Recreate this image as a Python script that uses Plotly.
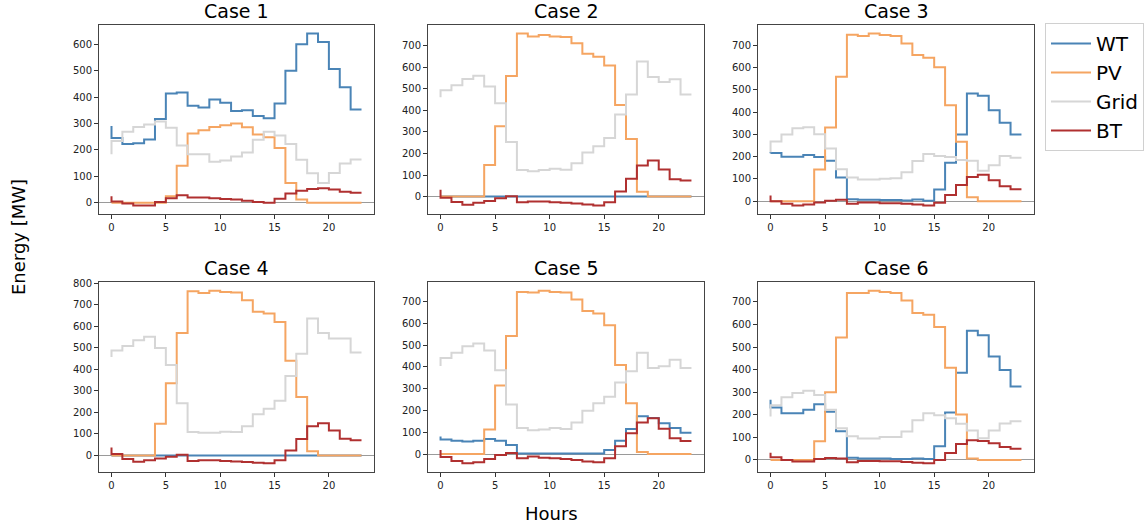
import plotly.graph_objects as go

hours = list(range(24))
cases = ["Case 1", "Case 2", "Case 3", "Case 4", "Case 5", "Case 6"]
series_names = ["WT", "PV", "Grid", "BT"]

# Case 1
wt1 = [290, 245, 222, 225, 239, 317, 413, 417, 367, 360, 391, 378, 347, 350, 328, 320, 376, 499, 600, 640, 608, 506, 437, 353]
pv1 = [0, 0, 0, 0, 0, 0, 25, 140, 262, 274, 287, 293, 300, 286, 258, 248, 207, 75, 12, 0, 0, 0, 0, 0]
grid1 = [184, 234, 269, 287, 296, 307, 284, 217, 184, 184, 155, 160, 175, 190, 238, 269, 254, 222, 163, 112, 75, 113, 149, 164]
bt1 = [25, 5, -3, -10, -10, 3, 17, 28, 20, 20, 17, 14, 12, 8, 3, 0, 15, 35, 45, 52, 55, 50, 42, 38]

# Case 2
wt2 = [0] * 24
pv2 = [0, 0, 0, 0, 0, 146, 326, 559, 756, 743, 750, 743, 740, 711, 662, 648, 608, 425, 267, 22, 0, 0, 0, 0]
grid2 = [461, 493, 516, 545, 561, 511, 433, 253, 123, 117, 123, 129, 124, 154, 204, 233, 272, 381, 473, 627, 555, 531, 544, 473]
bt2 = [32, -5, -25, -38, -29, -20, -8, 2, -26, -23, -23, -26, -29, -32, -37, -41, -26, 23, 83, 144, 167, 126, 80, 74]

# Case 3
wt3 = [215, 217, 200, 200, 207, 198, 182, 106, 9, 6, 6, 5, 5, 3, 8, 2, 53, 173, 300, 484, 474, 408, 352, 300]
pv3 = [0, 0, 0, 0, 0, 142, 331, 559, 748, 742, 753, 747, 742, 708, 657, 644, 602, 431, 267, 18, 0, 0, 0, 0]
grid3 = [220, 268, 300, 328, 332, 301, 237, 144, 106, 97, 97, 101, 103, 130, 180, 212, 203, 198, 185, 182, 137, 162, 203, 195]
bt3 = [25, 0, -12, -19, -15, -6, 2, 6, -12, -6, -6, -9, -9, -12, -15, -19, -7, 28, 73, 109, 119, 94, 67, 54]

# Case 4
wt4 = [0] * 24
pv4 = [0, 0, 0, 0, 0, 147, 336, 569, 763, 755, 766, 760, 757, 721, 668, 660, 620, 440, 271, 19, 0, 0, 0, 0]
grid4 = [457, 488, 509, 535, 552, 499, 420, 242, 109, 105, 105, 110, 109, 136, 191, 217, 254, 369, 473, 636, 569, 543, 544, 478]
bt4 = [37, 6, -17, -29, -23, -14, -6, 3, -26, -23, -22, -26, -28, -31, -34, -37, -22, 23, 76, 135, 150, 116, 78, 70]

# Case 5
wt5 = [80, 67, 61, 57, 61, 69, 61, 41, 2, 2, 2, 2, 2, 2, 2, 2, 18, 61, 115, 173, 165, 141, 119, 98]
pv5 = [0, 0, 0, 0, 0, 112, 314, 542, 744, 741, 750, 744, 741, 709, 657, 645, 591, 409, 233, 9, 0, 0, 0, 0]
grid5 = [404, 441, 465, 495, 507, 475, 384, 227, 119, 109, 113, 119, 115, 145, 198, 233, 263, 328, 380, 465, 395, 403, 433, 395]
bt5 = [18, -14, -32, -43, -38, -23, -5, 5, -20, -12, -17, -20, -23, -28, -34, -38, -20, 35, 95, 145, 164, 116, 72, 60]

# Case 6
wt6 = [267, 232, 207, 207, 222, 247, 214, 127, 10, 6, 6, 6, 4, 4, 7, 4, 61, 210, 386, 572, 552, 458, 399, 325]
pv6 = [0, 0, 0, 0, 0, 83, 300, 542, 740, 740, 750, 744, 740, 706, 651, 643, 589, 408, 201, 6, 0, 0, 0, 0]
grid6 = [193, 242, 278, 297, 307, 288, 223, 140, 105, 95, 95, 102, 102, 126, 176, 207, 198, 185, 160, 130, 96, 130, 162, 171]
bt6 = [32, 12, 0, -7, -7, 4, 9, 6, -10, -4, -4, -6, -6, -9, -12, -15, 0, 31, 71, 87, 84, 74, 58, 50]

data = [
    [wt1, pv1, grid1, bt1],
    [wt2, pv2, grid2, bt2],
    [wt3, pv3, grid3, bt3],
    [wt4, pv4, grid4, bt4],
    [wt5, pv5, grid5, bt5],
    [wt6, pv6, grid6, bt6],
]

colors = ["#4a84b6", "#f5a562", "#d6d6d6", "#b03030"]

W, H = 1145, 527
xdoms = [(99, 374), (428, 704), (758, 1034)]
ydoms = [(25, 214), (282, 472)]

FONT = "DejaVu Sans"
fig = go.Figure()
annotations = []

for i, case in enumerate(cases):
    r, c = divmod(i, 3)
    ax = "" if i == 0 else str(i + 1)
    x0, x1 = xdoms[c]
    t, b = ydoms[r]
    xd = [x0 / W, x1 / W]
    yd = [1 - b / H, 1 - t / H]
    allv = [v for s in data[i] for v in s]
    lo, hi = min(allv), max(allv)
    pad = (hi - lo) * 0.05
    for k, name in enumerate(series_names):
        fig.add_trace(go.Scatter(
            x=hours, y=data[i][k], mode="lines", name=name,
            line=dict(color=colors[k], width=2, shape="vh"),
            showlegend=(i == 0),
            xaxis="x" + ax, yaxis="y" + ax,
        ))
    common = dict(showline=True, linecolor="#444444", linewidth=1, mirror=True,
                  ticks="outside", ticklen=4, tickcolor="#333333",
                  tickfont=dict(family=FONT, size=10, color="#222222"),
                  showgrid=False, automargin=False)
    fig.layout["xaxis" + ax] = dict(domain=xd, anchor="y" + ax, range=[-1.15, 24.15],
                                    tickmode="linear", tick0=0, dtick=5, zeroline=False, **common)
    fig.layout["yaxis" + ax] = dict(domain=yd, anchor="x" + ax, range=[lo - pad, hi + pad],
                                    tickmode="linear", tick0=0, dtick=100,
                                    zeroline=True, zerolinecolor="#9a9a9a", zerolinewidth=1, **common)
    annotations.append(dict(text=case, x=(xd[0] + xd[1]) / 2, y=yd[1], xref="paper", yref="paper",
                            xanchor="center", yanchor="bottom", yshift=1, showarrow=False,
                            font=dict(family=FONT, size=19, color="black")))

annotations.append(dict(text="Energy [MW]", x=18 / W, y=1 - 237 / H, xref="paper", yref="paper",
                        textangle=-90, showarrow=False, xanchor="center", yanchor="middle",
                        font=dict(family=FONT, size=18, color="black")))
annotations.append(dict(text="Hours", x=551 / W, y=1 - 513 / H, xref="paper", yref="paper",
                        showarrow=False, xanchor="center", yanchor="middle",
                        font=dict(family=FONT, size=18, color="black")))

fig.update_layout(
    width=W, height=H, template="none",
    margin=dict(l=0, r=0, t=0, b=0),
    paper_bgcolor="white", plot_bgcolor="white",
    annotations=annotations,
    legend=dict(x=1045 / W, y=1 - 23 / H, xanchor="left", yanchor="top",
                bordercolor="#d0d0d0", borderwidth=1, bgcolor="white",
                font=dict(family=FONT, size=20, color="black"),
                tracegroupgap=0, itemwidth=40),
)

fig.write_html("out.html")
